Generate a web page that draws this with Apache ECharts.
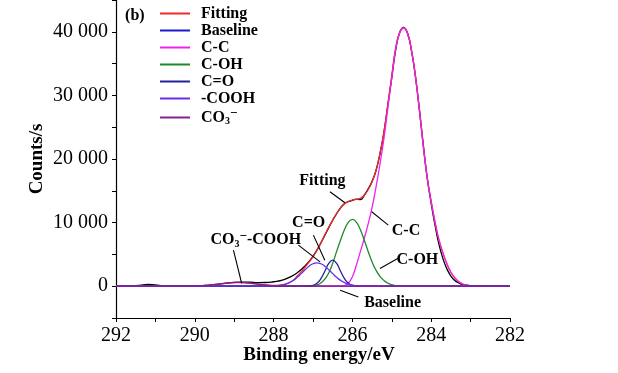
<!DOCTYPE html>
<html><head><meta charset="utf-8">
<script src="https://cdn.jsdelivr.net/npm/echarts@6/dist/echarts.min.js"></script>
<style>html,body{margin:0;padding:0;background:#fff}#c{width:618px;height:373px}</style>
</head><body><div id="c"></div>
<script>
// ---- data (binding energy eV, counts/s) ----
const xTicks = [292, 290, 288, 286, 284, 282];
const yTicks = [0, 10000, 20000, 30000, 40000];

const rawData = [[292.0,50],[291.8,80],[291.6,60],[291.4,120],[291.2,280],[291.0,200],[290.8,80],[290.6,40],[290.4,60],[290.2,40],[290.0,60],[289.8,100],[289.6,180],[289.4,320],[289.2,480],[289.0,600],[288.8,650],[288.6,620],[288.4,560],[288.2,580],[288.0,700],[287.8,900],[287.6,1400],[287.4,2100],[287.2,3200],[287.0,4700],[286.8,6800],[286.6,9200],[286.4,11400],[286.2,13000],[286.0,13500],[285.9,13700],[285.8,13600],[285.7,14300],[285.6,15300],[285.5,16500],[285.4,18200],[285.3,20800],[285.2,24200],[285.1,28500],[285.0,32800],[284.9,37200],[284.8,39900],[284.7,40700],[284.6,39800],[284.5,37000],[284.4,33000],[284.3,27800],[284.2,22200],[284.1,17000],[284.0,13000],[283.9,9500],[283.8,6500],[283.7,4300],[283.6,2700],[283.5,1600],[283.4,900],[283.3,500],[283.2,250],[283.0,100],[282.8,50],[282.5,30],[282.0,20]];

const fittingData = [[292,0],[290.4,0],[290.2,10],[290.0,30],[289.8,80],[289.6,180],[289.4,320],[289.2,480],[289.0,580],[288.8,580],[288.6,480],[288.4,330],[288.2,190],[288.0,130],[287.9,140],[287.8,200],[287.7,340],[287.6,580],[287.5,950],[287.4,1600],[287.3,2250],[287.2,3000],[287.1,3800],[287.0,4650],[286.9,5650],[286.8,6850],[286.7,8100],[286.6,9300],[286.5,10400],[286.4,11400],[286.3,12300],[286.2,12950],[286.1,13350],[286.0,13550],[285.9,13650],[285.8,13800],[285.7,14300],[285.6,15200],[285.5,16400],[285.4,18200],[285.3,20900],[285.2,24200],[285.1,28600],[285.0,33200],[284.9,37500],[284.8,39900],[284.7,40600],[284.6,39700],[284.5,37100],[284.4,33000],[284.3,27700],[284.2,22000],[284.1,17000],[284.0,13300],[283.9,10000],[283.8,7200],[283.7,5200],[283.6,3500],[283.5,2200],[283.4,1300],[283.3,700],[283.2,350],[283.1,150],[283.0,60],[282.9,0],[282,0]];

const baselineData = [[292,0],[282,0]];

const ccData = [[292,0],[286.3,0],[286.2,100],[286.1,500],[286.0,1500],[285.9,3300],[285.8,5400],[285.7,7500],[285.6,9800],[285.5,12400],[285.4,15600],[285.3,19200],[285.2,23200],[285.1,28000],[285.0,32800],[284.9,37300],[284.8,39800],[284.7,40600],[284.6,39700],[284.5,37100],[284.4,33000],[284.3,27700],[284.2,22000],[284.1,17000],[284.0,13300],[283.9,10000],[283.8,7200],[283.7,5200],[283.6,3500],[283.5,2200],[283.4,1300],[283.3,700],[283.2,350],[283.1,150],[283.0,60],[282.9,0],[282,0]];

const cohData = [[292,0],[287.1,0],[287.0,60],[286.9,200],[286.8,500],[286.7,1100],[286.6,2100],[286.5,3600],[286.4,5470],[286.3,7270],[286.2,8920],[286.1,10080],[286.0,10500],[285.9,10080],[285.8,8920],[285.7,7270],[285.6,5470],[285.5,3800],[285.4,2500],[285.3,1550],[285.2,900],[285.1,480],[285.0,230],[284.9,90],[284.8,30],[284.7,0],[282,0]];

const coData = [[292,0],[287.2,0],[287.1,30],[287.0,130],[286.9,450],[286.8,1180],[286.7,2360],[286.6,3570],[286.5,4100],[286.4,3570],[286.3,2360],[286.2,1180],[286.1,450],[286.0,130],[285.9,30],[285.8,0],[282,0]];

const coohData = [[292,0],[288.1,0],[288.0,35],[287.9,80],[287.8,160],[287.7,310],[287.6,550],[287.5,920],[287.4,1400],[287.3,1980],[287.2,2590],[287.1,3150],[287.0,3530],[286.9,3670],[286.8,3530],[286.7,3150],[286.6,2590],[286.5,1980],[286.4,1400],[286.3,920],[286.2,550],[286.1,310],[286.0,160],[285.9,80],[285.8,35],[285.7,0],[282,0]];

const co3Data = [[292,0],[290.3,0],[290.1,17],[289.9,50],[289.7,120],[289.5,250],[289.3,400],[289.1,540],[288.9,600],[288.7,540],[288.5,400],[288.3,250],[288.1,120],[287.9,50],[287.7,17],[287.5,0],[282,0]];

// annotation anchors in data units: [energy, counts]
const notes = [
  {text:'Fitting', at:[286.76,16540], line:[[286.57,14850],[286.19,13120]]},
  {text:'C-C', at:[284.64,8700], line:[[285.51,11700],[285.09,9600]]},
  {text:'C-OH', at:[284.35,4090], line:[[285.30,2790],[284.84,4410]]},
  {text:'C=O', at:[287.11,9920], line:[[286.99,8030],[286.70,4090]]},
  {text:'{a|CO}{s|3}{u|−}{a|-COOH}', at:[288.45,7240], line:[[287.37,6460],[286.82,3830]], line2:[[289.02,5670],[288.81,430]]},
  {text:'Baseline', at:[284.98,-2630], line:[[286.31,-630],[285.85,-1690]]}
];

const FONT = '"Liberation Serif", "Times New Roman", serif';
const chart = echarts.init(document.getElementById('c'), null, {renderer:'canvas'});

function mk(name, data, color, z){
  return {name, type:'line', data, color, z, symbol:'none', smooth:0.5,
    lineStyle:{width:1.3, color}, emphasis:{disabled:true}, animation:false};
}
const legendNames = ['Fitting','Baseline','C-C','C-OH','C=O','-COOH','CO3'];

chart.setOption({
  animation:false,
  backgroundColor:'#fff',
  grid:{left:116, right:108, top:0, bottom:55, containLabel:false},
  legend:{
    data:legendNames, orient:'vertical', left:160, top:5, padding:0, itemGap:0,
    icon:'rect', itemWidth:30, itemHeight:2,
    textStyle:{fontFamily:FONT, fontSize:16, fontWeight:'bold', color:'#000', lineHeight:17,
      rich:{t:{fontFamily:FONT, fontSize:16, fontWeight:'bold', padding:[0,0,0,6]},
            s:{fontFamily:FONT, fontSize:10, fontWeight:'bold', padding:[8,0,0,0]},
            u:{fontFamily:FONT, fontSize:13, fontWeight:'bold', padding:[0,0,8,0]}}},
    formatter:function(n){ return n==='CO3' ? '{t|CO}{s|3}{u|−}' : '{t|'+n+'}'; }
  },
  xAxis:{type:'value', min:282, max:292, interval:1, inverse:true,
    name:'Binding energy/eV', nameLocation:'middle', nameGap:28, nameMoveOverlap:false,
    nameTextStyle:{fontFamily:FONT, fontSize:19, fontWeight:'bold', color:'#000', padding:[0,0,0,12]},
    axisLine:{onZero:false, lineStyle:{color:'#000', width:1.2}},
    axisTick:{show:true, length:4, lineStyle:{color:'#000'}},
    splitLine:{show:false},
    axisLabel:{fontFamily:FONT, fontSize:20, color:'#000', margin:8,
      formatter:function(v){ return xTicks.indexOf(v)>=0 ? String(v) : ''; }}
  },
  yAxis:{type:'value', min:-5000, max:45000, interval:5000,
    name:'Counts/s', nameLocation:'middle', nameGap:69, nameRotate:90, nameMoveOverlap:false,
    nameTextStyle:{fontFamily:FONT, fontSize:19, fontWeight:'bold', color:'#000'},
    axisLine:{show:true, onZero:false, lineStyle:{color:'#000', width:1.2}},
    axisTick:{show:true, length:4, lineStyle:{color:'#000'}},
    splitLine:{show:false},
    axisLabel:{fontFamily:FONT, fontSize:20, color:'#000', margin:8,
      formatter:function(v){ return yTicks.indexOf(v)>=0 ? String(v).replace(/\B(?=(\d{3})+(?!\d))/g,' ') : ''; }}
  },
  series:[
    mk('raw', rawData, '#000000', 1),
    mk('Fitting', fittingData, '#ee2a2a', 2),
    mk('Baseline', baselineData, '#1a1acc', 3),
    mk('C-C', ccData, '#ee22ee', 4),
    mk('C-OH', cohData, '#1f8a2a', 5),
    mk('C=O', coData, '#222299', 6),
    mk('-COOH', coohData, '#6a2ee8', 7),
    mk('CO3', co3Data, '#8a1f8f', 8)
  ]
});

function px(p){ return chart.convertToPixel({gridIndex:0}, p); }
const g = [];
const rich = {a:{fontFamily:FONT, fontSize:16, fontWeight:'bold', color:'#000'},
  s:{fontFamily:FONT, fontSize:10, fontWeight:'bold', color:'#000', padding:[8,0,0,0]},
  u:{fontFamily:FONT, fontSize:13, fontWeight:'bold', color:'#000', padding:[0,0,8,0]}};
notes.forEach(function(n){
  const c = px(n.at);
  g.push({type:'text', x:c[0], y:c[1], z:100, style:{text:n.text, rich, fill:'#000',
    font:'bold 16px '+FONT, align:'center', verticalAlign:'middle'}});
  [n.line, n.line2].forEach(function(l){
    if(!l) return;
    const a = px(l[0]), b = px(l[1]);
    g.push({type:'line', z:100, shape:{x1:a[0], y1:a[1], x2:b[0], y2:b[1]}, style:{stroke:'#000', lineWidth:1.1}});
  });
});
const bp = px([291.77, 42500]);
g.push({type:'text', x:bp[0], y:bp[1], z:100, style:{text:'(b)', fill:'#000', font:'bold 16px '+FONT, align:'left', verticalAlign:'middle'}});
chart.setOption({graphic:g});
</script></body></html>
